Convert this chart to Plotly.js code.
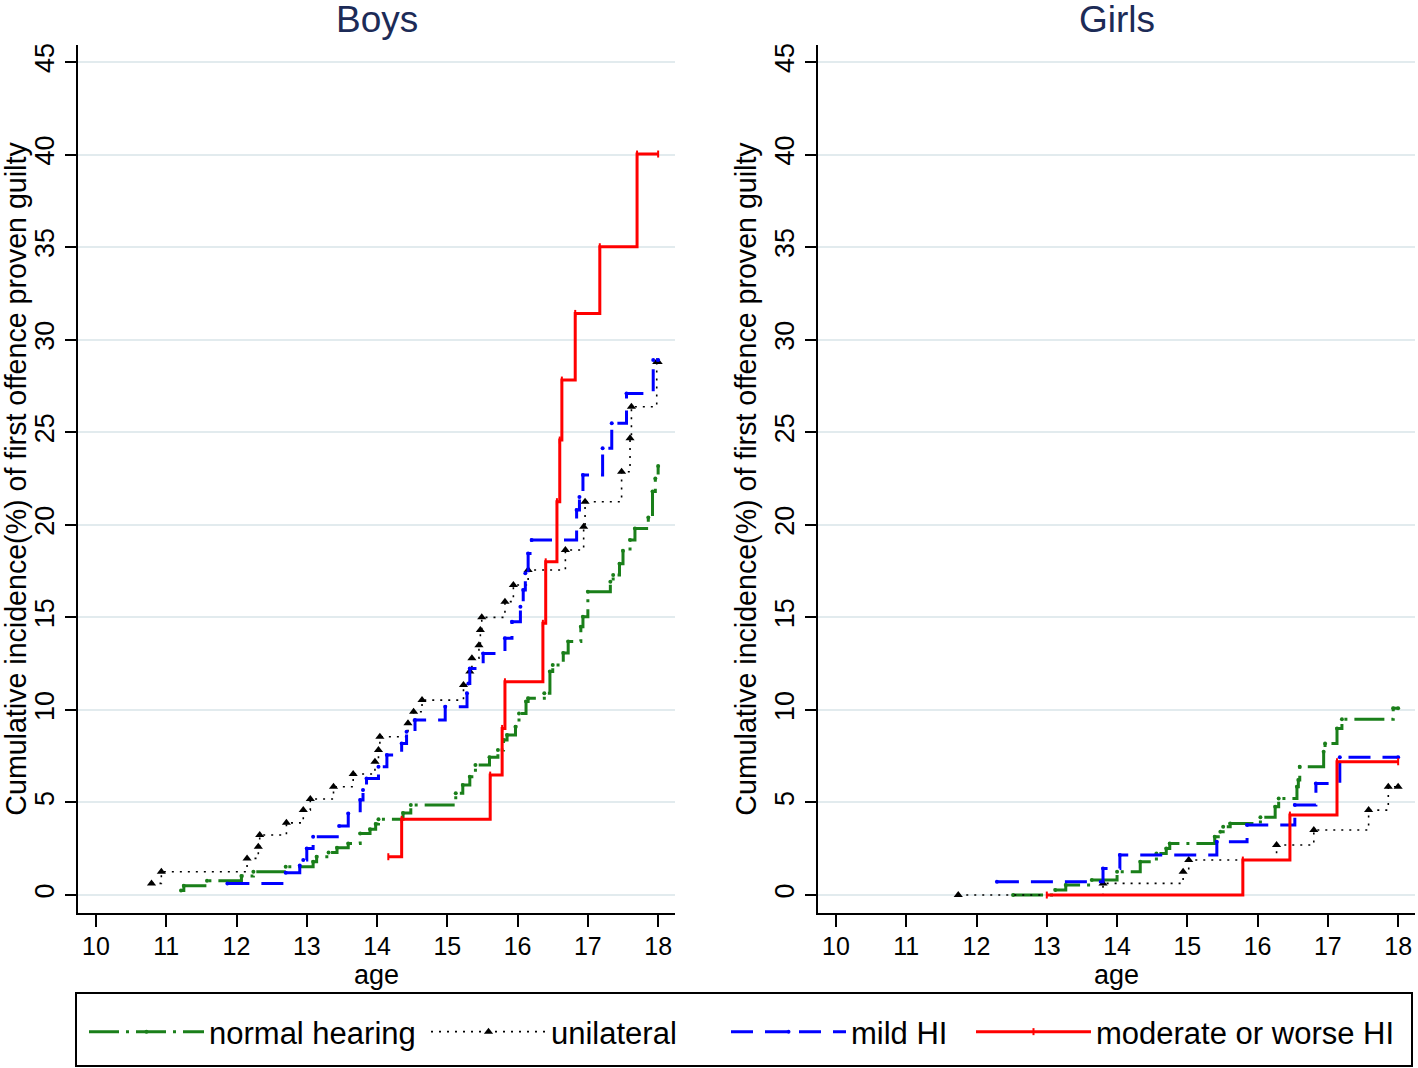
<!DOCTYPE html>
<html>
<head>
<meta charset="utf-8">
<script src="https://cdn.plot.ly/plotly-3.0.1.min.js"></script>
<style>
html,body{margin:0;padding:0;background:#fff;}
#chart{width:1418px;height:1068px;}
</style>
</head>
<body>
<div id="chart"></div>
<script>
// ---------- DATA (age, cumulative incidence %) ----------
const seriesNames = ["normal hearing", "unilateral", "mild HI", "moderate or worse HI"];
const panelTitles = ["Boys", "Girls"];
const xTickVals = [10, 11, 12, 13, 14, 15, 16, 17, 18];
const yTickVals = [0, 5, 10, 15, 20, 25, 30, 35, 40, 45];

// Boys
const boysNormalAge = [11.21, 11.25, 11.58, 12.07, 12.24, 12.70, 13.09, 13.14, 13.31, 13.43, 13.59, 13.76, 13.90, 13.98, 14.02, 14.37, 14.48, 15.12, 15.22, 15.32, 15.40, 15.60, 15.72, 15.80, 15.85, 15.97, 16.02, 16.12, 16.15, 16.38, 16.46, 16.50, 16.65, 16.72, 16.90, 16.93, 17.00, 17.32, 17.36, 17.45, 17.50, 17.60, 17.67, 17.86, 17.92, 17.96, 18.00];
const boysNormalVal = [0.25, 0.50, 0.77, 1.03, 1.26, 1.53, 1.80, 2.07, 2.30, 2.56, 2.79, 3.33, 3.56, 3.84, 4.09, 4.43, 4.86, 5.50, 5.94, 6.39, 7.02, 7.45, 7.83, 8.37, 8.64, 9.09, 9.81, 10.45, 10.63, 10.90, 12.07, 12.43, 13.07, 13.69, 14.50, 15.04, 16.39, 16.93, 17.29, 17.90, 18.60, 19.18, 19.80, 20.40, 21.80, 22.50, 23.18];

const boysUniAge = [10.79, 10.93, 12.15, 12.31, 12.33, 12.71, 12.95, 13.05, 13.38, 13.66, 13.97, 14.02, 14.04, 14.44, 14.52, 14.64, 15.23, 15.32, 15.35, 15.45, 15.47, 15.49, 15.82, 15.94, 16.15, 16.68, 16.94, 16.96, 17.48, 17.60, 17.62, 17.98, 18.00];
const boysUniVal = [0.63, 1.26, 1.98, 2.61, 3.24, 3.90, 4.59, 5.19, 5.85, 6.54, 7.20, 7.83, 8.55, 9.28, 9.90, 10.53, 11.35, 12.07, 12.79, 13.50, 14.32, 15.00, 15.85, 16.75, 17.56, 18.64, 19.90, 21.25, 22.87, 24.67, 26.38, 28.80, 28.80];

const boysMildAge = [11.87, 12.70, 12.90, 12.95, 13.00, 13.09, 13.46, 13.59, 13.76, 13.80, 13.85, 14.02, 14.14, 14.35, 14.42, 14.54, 14.97, 15.28, 15.30, 15.32, 15.51, 15.82, 15.92, 16.04, 16.08, 16.11, 16.15, 16.20, 16.84, 16.88, 16.93, 17.21, 17.34, 17.55, 17.93, 18.00];
const boysMildVal = [0.63, 1.20, 1.60, 1.89, 2.52, 3.15, 3.73, 4.41, 5.13, 5.67, 6.30, 6.93, 7.56, 8.19, 8.82, 9.45, 10.17, 10.90, 11.43, 12.24, 13.05, 13.87, 14.77, 15.57, 16.48, 17.38, 18.45, 19.18, 20.80, 21.50, 22.69, 24.13, 25.48, 27.10, 28.90, 28.90];

const boysModAge = [14.16, 14.35, 15.61, 15.78, 15.82, 16.36, 16.40, 16.56, 16.60, 16.63, 16.82, 17.17, 17.70, 18.00];
const boysModVal = [2.07, 4.09, 6.48, 9.00, 11.52, 14.68, 18.00, 21.25, 24.58, 27.82, 31.42, 35.02, 40.03, 40.03];

// Girls
const girlsNormalAge = [12.52, 13.12, 13.27, 13.64, 14.00, 14.33, 14.56, 14.70, 14.75, 15.39, 15.47, 15.51, 15.61, 16.04, 16.25, 16.30, 16.56, 16.58, 16.60, 16.94, 16.96, 17.13, 17.20, 17.93, 18.00];
const girlsNormalVal = [0.00, 0.27, 0.54, 0.81, 1.26, 1.80, 2.25, 2.52, 2.79, 3.15, 3.42, 3.69, 3.87, 4.20, 4.77, 5.22, 5.85, 6.21, 6.93, 7.74, 8.19, 9.00, 9.49, 10.09, 10.09];

const girlsUniAge = [11.74, 13.80, 14.94, 15.02, 16.27, 16.80, 17.58, 17.86, 18.00];
const girlsUniVal = [0.00, 0.63, 1.26, 1.89, 2.70, 3.51, 4.59, 5.85, 5.85];

const girlsMildAge = [12.29, 13.80, 14.04, 15.42, 15.85, 16.53, 16.83, 17.17, 18.00];
const girlsMildVal = [0.72, 1.44, 2.16, 2.88, 3.78, 4.86, 6.03, 7.44, 7.44];

const girlsModAge = [13.00, 15.79, 16.46, 17.13, 18.00];
const girlsModVal = [0.00, 1.89, 4.32, 7.20, 7.20];

// ---------- STYLES ----------
const FONT = "'Liberation Sans', Arial, Helvetica, sans-serif";
const styles = [
  {color: "#1a7f1a", dash: "30px,7px,3px,7px", width: 3, symbol: "circle", msize: 4},
  {color: "#000000", dash: "2px,6px", width: 1.6, symbol: "triangle-up", msize: 8},
  {color: "#0000ff", dash: "22px,12px", width: 3, symbol: "circle", msize: 4},
  {color: "#ff0000", dash: "solid", width: 3, symbol: "line-ns", msize: 5}
];
const legendIds = ["legend", "legend2", "legend3", "legend4"];
const legendLeft = [84, 426, 726, 971]; // page px

const panels = [
  {xa: "x", ya: "y", data: [[boysNormalAge, boysNormalVal], [boysUniAge, boysUniVal], [boysMildAge, boysMildVal], [boysModAge, boysModVal]]},
  {xa: "x2", ya: "y2", data: [[girlsNormalAge, girlsNormalVal], [girlsUniAge, girlsUniVal], [girlsMildAge, girlsMildVal], [girlsModAge, girlsModVal]]}
];

const traces = [];
panels.forEach((p, pi) => {
  p.data.forEach((d, si) => {
    const s = styles[si];
    traces.push({
      type: "scatter", mode: "lines+markers",
      x: d[0], y: d[1], xaxis: p.xa, yaxis: p.ya,
      name: seriesNames[si], legendgroup: seriesNames[si], showlegend: pi === 0,
      legend: legendIds[si],
      line: {shape: "hv", color: s.color, dash: s.dash, width: s.width},
      marker: {symbol: s.symbol, size: s.msize, color: s.color, line: {color: s.color, width: si === 3 ? 2 : 0}},
      hoverinfo: "x+y"
    });
  });
});

const L = 78, R = 3, T = 45, B = 155;
const plotW = 1418 - L - R, plotH = 1068 - T - B;
const px = v => (v - L) / plotW;        // page x -> paper x
const py = v => (1068 - B - v) / plotH; // page y -> paper y

const xRange = [9.744, 18.24];
const yRange = [-0.97, 45.92];

function xAxis(domain) {
  return {
    domain: domain, range: xRange, tickvals: xTickVals,
    ticks: "outside", ticklen: 12, tickwidth: 2, tickcolor: "#000",
    showline: true, linewidth: 2, linecolor: "#000",
    showgrid: false, zeroline: false, ticklabelstandoff: -2,
    tickfont: {family: FONT, size: 25, color: "#000"},
    title: {text: "age", font: {family: FONT, size: 27, color: "#000"}, standoff: 0},
    fixedrange: true
  };
}
function yAxis(anchor) {
  return {
    anchor: anchor, domain: [0, 1], range: yRange, tickvals: yTickVals,
    ticks: "outside", ticklen: 11, tickwidth: 2, tickcolor: "#000",
    tickangle: -90,
    showline: true, linewidth: 2, linecolor: "#000",
    showgrid: true, gridcolor: "#e2ebee", gridwidth: 2, zeroline: false,
    tickfont: {family: FONT, size: 27, color: "#000"},
    title: {text: "Cumulative incidence(%) of first offence proven guilty", font: {family: FONT, size: 28.6, color: "#000"}, standoff: 5},
    fixedrange: true
  };
}

const d1 = [0, px(675)], d2 = [px(818), 1];

const layout = {
  width: 1418, height: 1068,
  margin: {l: L, r: R, t: T, b: B, pad: 0},
  paper_bgcolor: "#fff", plot_bgcolor: "#fff",
  font: {family: FONT, color: "#000"},
  xaxis: Object.assign(xAxis(d1), {anchor: "y"}),
  yaxis: yAxis("x"),
  xaxis2: Object.assign(xAxis(d2), {anchor: "y2"}),
  yaxis2: yAxis("x2"),
  showlegend: true,
  shapes: [
    {type: "rect", xref: "paper", yref: "paper", x0: px(76), x1: px(1412), y0: py(993), y1: py(1066),
     line: {color: "#000", width: 2}, fillcolor: "rgba(0,0,0,0)"}
  ],
  annotations: panelTitles.map((t, i) => ({
    text: t, xref: "paper", yref: "paper",
    x: i === 0 ? (d1[0] + d1[1]) / 2 : (d2[0] + d2[1]) / 2,
    y: py(-2), xanchor: "center", yanchor: "top", showarrow: false, borderpad: 0,
    font: {family: FONT, size: 37, color: "#1c2b57"}
  }))
};
legendIds.forEach((id, i) => {
  layout[id] = {
    orientation: "h", x: px(legendLeft[i]), xanchor: "left", y: py(1005), yanchor: "top",
    font: {family: FONT, size: 31, color: "#000"},
    itemwidth: 115, bgcolor: "rgba(0,0,0,0)", borderwidth: 0,
    itemclick: false, itemdoubleclick: false
  };
});

Plotly.newPlot("chart", traces, layout, {displayModeBar: false});
</script>
</body>
</html>
